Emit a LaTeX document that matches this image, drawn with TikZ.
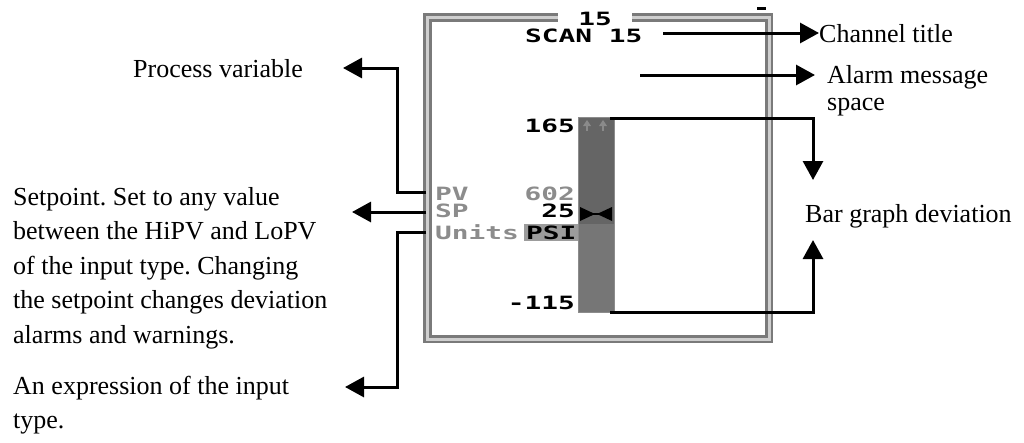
\documentclass[tikz,border=0pt]{standalone}
\usepackage{fontspec}
\setmainfont{Liberation Serif}
\newfontfamily\scrfont{DejaVu Sans Mono}
\usetikzlibrary{arrows.meta}
\frenchspacing
\definecolor{framedark}{HTML}{7A7A7A}
\definecolor{framelight}{HTML}{CFCFCF}
\definecolor{bardark}{HTML}{656565}
\definecolor{barlight}{HTML}{767676}
\definecolor{scrgray}{HTML}{8C8C8C}
\definecolor{psibg}{HTML}{9C9C9C}
\newcommand\pxt[1]{\scalebox{1.52}[1]{#1}}
\tikzset{
  callout/.style={draw=black, line width=3pt, -{Triangle[length=19pt,width=20pt]}},
  lbl/.style={font=\fontsize{26}{34}\selectfont\frenchspacing, inner sep=0pt, text=black},
  scr/.style={inner sep=0pt, font=\fontsize{18.3}{18.3}\scrfont\bfseries, text=black},
  scrg/.style={scr, text=scrgray},
}
\begin{document}
\begin{tikzpicture}[x=1pt,y=-1pt]
\useasboundingbox (0,0) rectangle (1024,442);
% ---- screen frame
\draw[framelight, line width=3.4pt] (427.1,17.1) rectangle (768.9,338.9);
\draw[framedark, line width=2.5pt] (424.25,14.25) rectangle (771.75,341.75);
\draw[framedark, line width=3pt] (430,20) rectangle (766,336);
\node[fill=white, minimum width=74pt, minimum height=13pt, inner sep=0pt] (gap) at (595,18) {};
\node[scr] (chnum) at (595,18.5) {\pxt{15}};
\draw[black, line width=2.5pt] (757,8.5) -- (766,8.5);
% ---- screen contents
\node[scr, anchor=base west] (title) at (525,42) {\pxt{SCAN 15}};
\node[scr, anchor=base east] (hi) at (575,132) {\pxt{165}};
\node[scrg, anchor=base west] (pvl) at (435,200.5) {\pxt{PV}};
\node[scrg, anchor=base east] (pvv) at (575,200.5) {\pxt{602}};
\node[scrg, anchor=base west] (spl) at (435,217.5) {\pxt{SP}};
\node[scr, anchor=base east] (spv) at (575,217.5) {\pxt{25}};
\fill[psibg] (524,224) rectangle (578,241);
\node[scrg, anchor=base west] (unl) at (435,239) {\pxt{Units}};
\node[scr, anchor=base west] (unv) at (526,239) {\pxt{PSI}};
\node[scr, anchor=base east] (lo) at (575,309) {\pxt{-115}};
% bar
\fill[bardark] (578,117) rectangle (615,224);
\fill[barlight] (578,224) rectangle (615,313);
\draw[scrgray, line width=1pt] (578.5,117.5) rectangle (614.5,312.5);
\foreach \bx in {587,603}{
  \draw[barlight!85!white, line width=2pt] (\bx,122) -- (\bx,131);
  \fill[barlight!85!white] (\bx-4,126) -- (\bx,120) -- (\bx+4,126) -- cycle;
}
\fill[black] (580,207) -- (595,214) -- (580,221) -- cycle;
\fill[black] (612,207) -- (597,214) -- (612,221) -- cycle;
\draw[black, line width=1.5pt] (592,214) -- (600,214);
% ---- labels
\node[lbl, anchor=base west] (ch) at (819,42) {Channel title};
\node[lbl, anchor=base west] (al1) at (827,83) {Alarm message};
\node[lbl, anchor=base west] (al2) at (827,110) {space};
\node[lbl, anchor=base west] (bg) at (805,222) {Bar graph deviation};
\node[lbl, anchor=base east] (pv) at (303,77) {Process variable};
\node[lbl, anchor=base west] (sp1) at (13,205) {Setpoint. Set to any value};
\node[lbl, anchor=base west] (sp2) at (13,239.5) {between the HiPV and LoPV};
\node[lbl, anchor=base west] (sp3) at (13,274) {of the input type. Changing};
\node[lbl, anchor=base west] (sp4) at (13,308.5) {the setpoint changes deviation};
\node[lbl, anchor=base west] (sp5) at (13,343) {alarms and warnings.};
\node[lbl, anchor=base west] (ex1) at (13,394) {An expression of the input};
\node[lbl, anchor=base west] (ex2) at (13,428) {type.};
% ---- connectors
\coordinate (chs) at (663,33);
\coordinate (als) at (640,75);
\coordinate (alt) at (815,75);
\coordinate (bts) at (610,118);
\coordinate (btt) at (813,180);
\coordinate (bbs) at (610,312);
\coordinate (bbt) at (813,240);
\coordinate (pvs) at (426,192);
\coordinate (sps) at (426,212);
\coordinate (spt) at (352,212);
\coordinate (uns) at (426,232);
\coordinate (unt) at (345,387);
\draw[callout] (chs) -- (chs -| ch.west);
\draw[callout] (als) -- (alt);
\draw[callout] (bts) -| (btt);
\draw[callout] (bbs) -| (bbt);
\draw[callout] (pvs) -- (397,192) |- ([xshift=40pt,yshift=9pt]pv.base east);
\draw[callout] (sps) -- (spt);
\draw[callout] (uns) -- (397,232) |- (unt);
\end{tikzpicture}
\end{document}
